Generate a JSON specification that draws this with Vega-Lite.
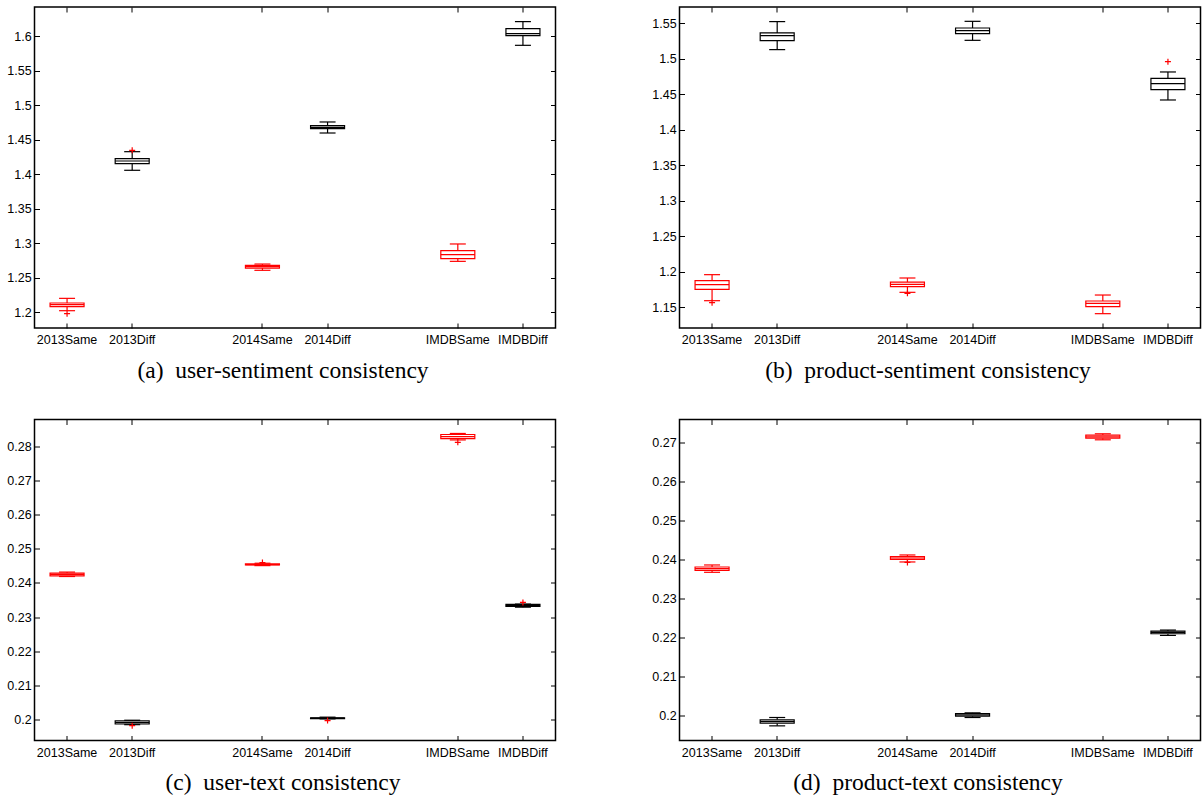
{
"$schema": "https://vega.github.io/schema/vega-lite/v6.json",
"padding": {"left": 5.5, "top": 5, "right": 0, "bottom": 0},
"background": "white",
"columns": 2,
"spacing": {"row": 34.5, "column": 93},
"datasets": {
"boxes": [
{"panel":"a","group":"2013Same","type":"Same","lower":1.2019,"q1":1.2077,"median":1.2106,"q3":1.2131,"upper":1.2198},
{"panel":"a","group":"2013Diff","type":"Diff","lower":1.4056,"q1":1.4152,"median":1.4191,"q3":1.4225,"upper":1.4326},
{"panel":"a","group":"2014Same","type":"Same","lower":1.2605,"q1":1.2638,"median":1.2658,"q3":1.2677,"upper":1.2696},
{"panel":"a","group":"2014Diff","type":"Diff","lower":1.4597,"q1":1.4660,"median":1.4680,"q3":1.4704,"upper":1.4757},
{"panel":"a","group":"IMDBSame","type":"Same","lower":1.2735,"q1":1.2774,"median":1.2832,"q3":1.2890,"upper":1.2987},
{"panel":"a","group":"IMDBDiff","type":"Diff","lower":1.5869,"q1":1.6010,"median":1.6039,"q3":1.6111,"upper":1.6213},
{"panel":"b","group":"2013Same","type":"Same","lower":1.1589,"q1":1.1749,"median":1.1815,"q3":1.1871,"upper":1.1956},
{"panel":"b","group":"2013Diff","type":"Diff","lower":1.5129,"q1":1.5256,"median":1.5326,"q3":1.5364,"upper":1.5524},
{"panel":"b","group":"2014Same","type":"Same","lower":1.1707,"q1":1.1787,"median":1.1820,"q3":1.1852,"upper":1.1909},
{"panel":"b","group":"2014Diff","type":"Diff","lower":1.5260,"q1":1.5354,"median":1.5397,"q3":1.5434,"upper":1.5528},
{"panel":"b","group":"IMDBSame","type":"Same","lower":1.1406,"q1":1.1505,"median":1.1552,"q3":1.1585,"upper":1.1669},
{"panel":"b","group":"IMDBDiff","type":"Diff","lower":1.4419,"q1":1.4565,"median":1.4649,"q3":1.4724,"upper":1.4814},
{"panel":"c","group":"2013Same","type":"Same","lower":0.2419,"q1":0.2421,"median":0.2425,"q3":0.2429,"upper":0.2432},
{"panel":"c","group":"2013Diff","type":"Diff","lower":0.1984,"q1":0.1986,"median":0.1990,"q3":0.1995,"upper":0.1997},
{"panel":"c","group":"2014Same","type":"Same","lower":0.2451,"q1":0.2453,"median":0.2454,"q3":0.2456,"upper":0.2458},
{"panel":"c","group":"2014Diff","type":"Diff","lower":0.2001,"q1":0.2002,"median":0.2003,"q3":0.2004,"upper":0.2006},
{"panel":"c","group":"IMDBSame","type":"Same","lower":0.2820,"q1":0.2824,"median":0.2830,"q3":0.2836,"upper":0.2839},
{"panel":"c","group":"IMDBDiff","type":"Diff","lower":0.2329,"q1":0.2331,"median":0.2334,"q3":0.2337,"upper":0.2338},
{"panel":"d","group":"2013Same","type":"Same","lower":0.23667,"q1":0.23718,"median":0.2376,"q3":0.23803,"upper":0.23855},
{"panel":"d","group":"2013Diff","type":"Diff","lower":0.19735,"q1":0.19803,"median":0.19846,"q3":0.19889,"upper":0.19949},
{"panel":"d","group":"2014Same","type":"Same","lower":0.23932,"q1":0.2400,"median":0.24034,"q3":0.24068,"upper":0.24111},
{"panel":"d","group":"2014Diff","type":"Diff","lower":0.19949,"q1":0.19983,"median":0.20017,"q3":0.20051,"upper":0.20068},
{"panel":"d","group":"IMDBSame","type":"Same","lower":0.2706,"q1":0.27103,"median":0.27137,"q3":0.2718,"upper":0.27214},
{"panel":"d","group":"IMDBDiff","type":"Diff","lower":0.22051,"q1":0.22094,"median":0.22128,"q3":0.22162,"upper":0.22188}
],
"outliers": [
{"panel":"a","group":"2013Same","value":1.1976},
{"panel":"a","group":"2013Diff","value":1.4346},
{"panel":"b","group":"2013Same","value":1.1561},
{"panel":"b","group":"2014Same","value":1.1693},
{"panel":"b","group":"IMDBDiff","value":1.4959},
{"panel":"c","group":"2013Diff","value":0.1981},
{"panel":"c","group":"2014Same","value":0.2460},
{"panel":"c","group":"2014Diff","value":0.1996},
{"panel":"c","group":"IMDBSame","value":0.2813},
{"panel":"c","group":"IMDBDiff","value":0.2343},
{"panel":"d","group":"2014Same","value":0.2392}
]
},
"concat": [
{
"width": 521, "height": 321,
"data": {"name": "boxes"},
"transform": [{"filter": "datum.panel === 'a'"}],
"resolve": {"axis": {"x": "independent", "y": "independent"}},
"layer": [
{"mark": {"type": "rule", "strokeWidth": 1.2},
 "encoding": {
  "x": {"field": "group", "type": "nominal", "scale": {"type": "band", "domain": ["2013Same","2013Diff","gap1","2014Same","2014Diff","gap2","IMDBSame","IMDBDiff"], "paddingInner": 0, "paddingOuter": 0},
        "axis": {"orient": "bottom", "values": ["2013Same","2013Diff","2014Same","2014Diff","IMDBSame","IMDBDiff"], "title": "(a)\u00a0 user-sentiment consistency"}},
  "y": {"field": "lower", "type": "quantitative", "scale": {"domain": [1.1768, 1.6425], "nice": false, "zero": false},
        "axis": {"orient": "left", "values": [1.2,1.25,1.3,1.35,1.4,1.45,1.5,1.55,1.6], "format": "~g", "title": null}},
  "y2": {"field": "q1"},
  "color": {"field": "type", "type": "nominal", "scale": {"domain": ["Same","Diff"], "range": ["#ff0000","#000000"]}, "legend": null}}},
{"mark": {"type": "rule", "strokeWidth": 1.2},
 "encoding": {
  "x": {"field": "group", "type": "nominal", "scale": {"type": "band", "domain": ["2013Same","2013Diff","gap1","2014Same","2014Diff","gap2","IMDBSame","IMDBDiff"], "paddingInner": 0, "paddingOuter": 0}, "axis": null},
  "y": {"field": "q3", "type": "quantitative", "scale": {"domain": [1.1768, 1.6425], "nice": false, "zero": false}, "axis": null},
  "y2": {"field": "upper"},
  "color": {"field": "type", "type": "nominal", "scale": {"domain": ["Same","Diff"], "range": ["#ff0000","#000000"]}, "legend": null}}},
{"mark": {"type": "bar", "size": 34, "fill": "white", "strokeWidth": 1.2},
 "encoding": {
  "x": {"field": "group", "type": "nominal", "scale": {"type": "band", "domain": ["2013Same","2013Diff","gap1","2014Same","2014Diff","gap2","IMDBSame","IMDBDiff"], "paddingInner": 0, "paddingOuter": 0}, "axis": null},
  "y": {"field": "q1", "type": "quantitative", "scale": {"domain": [1.1768, 1.6425], "nice": false, "zero": false}, "axis": null},
  "y2": {"field": "q3"},
  "stroke": {"field": "type", "type": "nominal", "scale": {"domain": ["Same","Diff"], "range": ["#ff0000","#000000"]}, "legend": null}}},
{"mark": {"type": "tick", "size": 34, "thickness": 1.2, "opacity": 1},
 "encoding": {
  "x": {"field": "group", "type": "nominal", "scale": {"type": "band", "domain": ["2013Same","2013Diff","gap1","2014Same","2014Diff","gap2","IMDBSame","IMDBDiff"], "paddingInner": 0, "paddingOuter": 0},
        "axis": {"orient": "top", "values": ["2013Same","2013Diff","2014Same","2014Diff","IMDBSame","IMDBDiff"], "labels": false, "title": null}},
  "y": {"field": "median", "type": "quantitative", "scale": {"domain": [1.1768, 1.6425], "nice": false, "zero": false},
        "axis": {"orient": "right", "values": [1.2,1.25,1.3,1.35,1.4,1.45,1.5,1.55,1.6], "labels": false, "title": null}},
  "color": {"field": "type", "type": "nominal", "scale": {"domain": ["Same","Diff"], "range": ["#ff0000","#000000"]}, "legend": null}}},
{"mark": {"type": "tick", "size": 16, "thickness": 1.2, "opacity": 1},
 "encoding": {
  "x": {"field": "group", "type": "nominal", "scale": {"type": "band", "domain": ["2013Same","2013Diff","gap1","2014Same","2014Diff","gap2","IMDBSame","IMDBDiff"], "paddingInner": 0, "paddingOuter": 0}, "axis": null},
  "y": {"field": "upper", "type": "quantitative", "scale": {"domain": [1.1768, 1.6425], "nice": false, "zero": false}, "axis": null},
  "color": {"field": "type", "type": "nominal", "scale": {"domain": ["Same","Diff"], "range": ["#ff0000","#000000"]}, "legend": null}}},
{"mark": {"type": "tick", "size": 16, "thickness": 1.2, "opacity": 1},
 "encoding": {
  "x": {"field": "group", "type": "nominal", "scale": {"type": "band", "domain": ["2013Same","2013Diff","gap1","2014Same","2014Diff","gap2","IMDBSame","IMDBDiff"], "paddingInner": 0, "paddingOuter": 0}, "axis": null},
  "y": {"field": "lower", "type": "quantitative", "scale": {"domain": [1.1768, 1.6425], "nice": false, "zero": false}, "axis": null},
  "color": {"field": "type", "type": "nominal", "scale": {"domain": ["Same","Diff"], "range": ["#ff0000","#000000"]}, "legend": null}}},
{"data": {"name": "outliers"},
 "transform": [{"filter": "datum.panel === 'a'"}],
 "mark": {"type": "point", "shape": "M-1,0L1,0M0,-1L0,1", "size": 36, "filled": false, "stroke": "#ff0000", "strokeWidth": 1.2, "opacity": 1},
 "encoding": {
  "x": {"field": "group", "type": "nominal", "scale": {"type": "band", "domain": ["2013Same","2013Diff","gap1","2014Same","2014Diff","gap2","IMDBSame","IMDBDiff"], "paddingInner": 0, "paddingOuter": 0}, "axis": null},
  "y": {"field": "value", "type": "quantitative", "scale": {"domain": [1.1768, 1.6425], "nice": false, "zero": false}, "axis": null}}}
]
},
{
"width": 521, "height": 321,
"data": {"name": "boxes"},
"transform": [{"filter": "datum.panel === 'b'"}],
"resolve": {"axis": {"x": "independent", "y": "independent"}},
"layer": [
{"mark": {"type": "rule", "strokeWidth": 1.2},
 "encoding": {
  "x": {"field": "group", "type": "nominal", "scale": {"type": "band", "domain": ["2013Same","2013Diff","gap1","2014Same","2014Diff","gap2","IMDBSame","IMDBDiff"], "paddingInner": 0, "paddingOuter": 0},
        "axis": {"orient": "bottom", "values": ["2013Same","2013Diff","2014Same","2014Diff","IMDBSame","IMDBDiff"], "title": "(b)\u00a0 product-sentiment consistency"}},
  "y": {"field": "lower", "type": "quantitative", "scale": {"domain": [1.1204, 1.573], "nice": false, "zero": false},
        "axis": {"orient": "left", "values": [1.15,1.2,1.25,1.3,1.35,1.4,1.45,1.5,1.55], "format": "~g", "title": null}},
  "y2": {"field": "q1"},
  "color": {"field": "type", "type": "nominal", "scale": {"domain": ["Same","Diff"], "range": ["#ff0000","#000000"]}, "legend": null}}},
{"mark": {"type": "rule", "strokeWidth": 1.2},
 "encoding": {
  "x": {"field": "group", "type": "nominal", "scale": {"type": "band", "domain": ["2013Same","2013Diff","gap1","2014Same","2014Diff","gap2","IMDBSame","IMDBDiff"], "paddingInner": 0, "paddingOuter": 0}, "axis": null},
  "y": {"field": "q3", "type": "quantitative", "scale": {"domain": [1.1204, 1.573], "nice": false, "zero": false}, "axis": null},
  "y2": {"field": "upper"},
  "color": {"field": "type", "type": "nominal", "scale": {"domain": ["Same","Diff"], "range": ["#ff0000","#000000"]}, "legend": null}}},
{"mark": {"type": "bar", "size": 34, "fill": "white", "strokeWidth": 1.2},
 "encoding": {
  "x": {"field": "group", "type": "nominal", "scale": {"type": "band", "domain": ["2013Same","2013Diff","gap1","2014Same","2014Diff","gap2","IMDBSame","IMDBDiff"], "paddingInner": 0, "paddingOuter": 0}, "axis": null},
  "y": {"field": "q1", "type": "quantitative", "scale": {"domain": [1.1204, 1.573], "nice": false, "zero": false}, "axis": null},
  "y2": {"field": "q3"},
  "stroke": {"field": "type", "type": "nominal", "scale": {"domain": ["Same","Diff"], "range": ["#ff0000","#000000"]}, "legend": null}}},
{"mark": {"type": "tick", "size": 34, "thickness": 1.2, "opacity": 1},
 "encoding": {
  "x": {"field": "group", "type": "nominal", "scale": {"type": "band", "domain": ["2013Same","2013Diff","gap1","2014Same","2014Diff","gap2","IMDBSame","IMDBDiff"], "paddingInner": 0, "paddingOuter": 0},
        "axis": {"orient": "top", "values": ["2013Same","2013Diff","2014Same","2014Diff","IMDBSame","IMDBDiff"], "labels": false, "title": null}},
  "y": {"field": "median", "type": "quantitative", "scale": {"domain": [1.1204, 1.573], "nice": false, "zero": false},
        "axis": {"orient": "right", "values": [1.15,1.2,1.25,1.3,1.35,1.4,1.45,1.5,1.55], "labels": false, "title": null}},
  "color": {"field": "type", "type": "nominal", "scale": {"domain": ["Same","Diff"], "range": ["#ff0000","#000000"]}, "legend": null}}},
{"mark": {"type": "tick", "size": 16, "thickness": 1.2, "opacity": 1},
 "encoding": {
  "x": {"field": "group", "type": "nominal", "scale": {"type": "band", "domain": ["2013Same","2013Diff","gap1","2014Same","2014Diff","gap2","IMDBSame","IMDBDiff"], "paddingInner": 0, "paddingOuter": 0}, "axis": null},
  "y": {"field": "upper", "type": "quantitative", "scale": {"domain": [1.1204, 1.573], "nice": false, "zero": false}, "axis": null},
  "color": {"field": "type", "type": "nominal", "scale": {"domain": ["Same","Diff"], "range": ["#ff0000","#000000"]}, "legend": null}}},
{"mark": {"type": "tick", "size": 16, "thickness": 1.2, "opacity": 1},
 "encoding": {
  "x": {"field": "group", "type": "nominal", "scale": {"type": "band", "domain": ["2013Same","2013Diff","gap1","2014Same","2014Diff","gap2","IMDBSame","IMDBDiff"], "paddingInner": 0, "paddingOuter": 0}, "axis": null},
  "y": {"field": "lower", "type": "quantitative", "scale": {"domain": [1.1204, 1.573], "nice": false, "zero": false}, "axis": null},
  "color": {"field": "type", "type": "nominal", "scale": {"domain": ["Same","Diff"], "range": ["#ff0000","#000000"]}, "legend": null}}},
{"data": {"name": "outliers"},
 "transform": [{"filter": "datum.panel === 'b'"}],
 "mark": {"type": "point", "shape": "M-1,0L1,0M0,-1L0,1", "size": 36, "filled": false, "stroke": "#ff0000", "strokeWidth": 1.2, "opacity": 1},
 "encoding": {
  "x": {"field": "group", "type": "nominal", "scale": {"type": "band", "domain": ["2013Same","2013Diff","gap1","2014Same","2014Diff","gap2","IMDBSame","IMDBDiff"], "paddingInner": 0, "paddingOuter": 0}, "axis": null},
  "y": {"field": "value", "type": "quantitative", "scale": {"domain": [1.1204, 1.573], "nice": false, "zero": false}, "axis": null}}}
]
},
{
"width": 521, "height": 321,
"data": {"name": "boxes"},
"transform": [{"filter": "datum.panel === 'c'"}],
"resolve": {"axis": {"x": "independent", "y": "independent"}},
"layer": [
{"mark": {"type": "rule", "strokeWidth": 1.2},
 "encoding": {
  "x": {"field": "group", "type": "nominal", "scale": {"type": "band", "domain": ["2013Same","2013Diff","gap1","2014Same","2014Diff","gap2","IMDBSame","IMDBDiff"], "paddingInner": 0, "paddingOuter": 0},
        "axis": {"orient": "bottom", "values": ["2013Same","2013Diff","2014Same","2014Diff","IMDBSame","IMDBDiff"], "title": "(c)\u00a0 user-text consistency"}},
  "y": {"field": "lower", "type": "quantitative", "scale": {"domain": [0.19375, 0.288], "nice": false, "zero": false},
        "axis": {"orient": "left", "values": [0.2,0.21,0.22,0.23,0.24,0.25,0.26,0.27,0.28], "format": "~g", "title": null}},
  "y2": {"field": "q1"},
  "color": {"field": "type", "type": "nominal", "scale": {"domain": ["Same","Diff"], "range": ["#ff0000","#000000"]}, "legend": null}}},
{"mark": {"type": "rule", "strokeWidth": 1.2},
 "encoding": {
  "x": {"field": "group", "type": "nominal", "scale": {"type": "band", "domain": ["2013Same","2013Diff","gap1","2014Same","2014Diff","gap2","IMDBSame","IMDBDiff"], "paddingInner": 0, "paddingOuter": 0}, "axis": null},
  "y": {"field": "q3", "type": "quantitative", "scale": {"domain": [0.19375, 0.288], "nice": false, "zero": false}, "axis": null},
  "y2": {"field": "upper"},
  "color": {"field": "type", "type": "nominal", "scale": {"domain": ["Same","Diff"], "range": ["#ff0000","#000000"]}, "legend": null}}},
{"mark": {"type": "bar", "size": 34, "fill": "white", "strokeWidth": 1.2},
 "encoding": {
  "x": {"field": "group", "type": "nominal", "scale": {"type": "band", "domain": ["2013Same","2013Diff","gap1","2014Same","2014Diff","gap2","IMDBSame","IMDBDiff"], "paddingInner": 0, "paddingOuter": 0}, "axis": null},
  "y": {"field": "q1", "type": "quantitative", "scale": {"domain": [0.19375, 0.288], "nice": false, "zero": false}, "axis": null},
  "y2": {"field": "q3"},
  "stroke": {"field": "type", "type": "nominal", "scale": {"domain": ["Same","Diff"], "range": ["#ff0000","#000000"]}, "legend": null}}},
{"mark": {"type": "tick", "size": 34, "thickness": 1.2, "opacity": 1},
 "encoding": {
  "x": {"field": "group", "type": "nominal", "scale": {"type": "band", "domain": ["2013Same","2013Diff","gap1","2014Same","2014Diff","gap2","IMDBSame","IMDBDiff"], "paddingInner": 0, "paddingOuter": 0},
        "axis": {"orient": "top", "values": ["2013Same","2013Diff","2014Same","2014Diff","IMDBSame","IMDBDiff"], "labels": false, "title": null}},
  "y": {"field": "median", "type": "quantitative", "scale": {"domain": [0.19375, 0.288], "nice": false, "zero": false},
        "axis": {"orient": "right", "values": [0.2,0.21,0.22,0.23,0.24,0.25,0.26,0.27,0.28], "labels": false, "title": null}},
  "color": {"field": "type", "type": "nominal", "scale": {"domain": ["Same","Diff"], "range": ["#ff0000","#000000"]}, "legend": null}}},
{"mark": {"type": "tick", "size": 16, "thickness": 1.2, "opacity": 1},
 "encoding": {
  "x": {"field": "group", "type": "nominal", "scale": {"type": "band", "domain": ["2013Same","2013Diff","gap1","2014Same","2014Diff","gap2","IMDBSame","IMDBDiff"], "paddingInner": 0, "paddingOuter": 0}, "axis": null},
  "y": {"field": "upper", "type": "quantitative", "scale": {"domain": [0.19375, 0.288], "nice": false, "zero": false}, "axis": null},
  "color": {"field": "type", "type": "nominal", "scale": {"domain": ["Same","Diff"], "range": ["#ff0000","#000000"]}, "legend": null}}},
{"mark": {"type": "tick", "size": 16, "thickness": 1.2, "opacity": 1},
 "encoding": {
  "x": {"field": "group", "type": "nominal", "scale": {"type": "band", "domain": ["2013Same","2013Diff","gap1","2014Same","2014Diff","gap2","IMDBSame","IMDBDiff"], "paddingInner": 0, "paddingOuter": 0}, "axis": null},
  "y": {"field": "lower", "type": "quantitative", "scale": {"domain": [0.19375, 0.288], "nice": false, "zero": false}, "axis": null},
  "color": {"field": "type", "type": "nominal", "scale": {"domain": ["Same","Diff"], "range": ["#ff0000","#000000"]}, "legend": null}}},
{"data": {"name": "outliers"},
 "transform": [{"filter": "datum.panel === 'c'"}],
 "mark": {"type": "point", "shape": "M-1,0L1,0M0,-1L0,1", "size": 36, "filled": false, "stroke": "#ff0000", "strokeWidth": 1.2, "opacity": 1},
 "encoding": {
  "x": {"field": "group", "type": "nominal", "scale": {"type": "band", "domain": ["2013Same","2013Diff","gap1","2014Same","2014Diff","gap2","IMDBSame","IMDBDiff"], "paddingInner": 0, "paddingOuter": 0}, "axis": null},
  "y": {"field": "value", "type": "quantitative", "scale": {"domain": [0.19375, 0.288], "nice": false, "zero": false}, "axis": null}}}
]
},
{
"width": 521, "height": 321,
"data": {"name": "boxes"},
"transform": [{"filter": "datum.panel === 'd'"}],
"resolve": {"axis": {"x": "independent", "y": "independent"}},
"layer": [
{"mark": {"type": "rule", "strokeWidth": 1.2},
 "encoding": {
  "x": {"field": "group", "type": "nominal", "scale": {"type": "band", "domain": ["2013Same","2013Diff","gap1","2014Same","2014Diff","gap2","IMDBSame","IMDBDiff"], "paddingInner": 0, "paddingOuter": 0},
        "axis": {"orient": "bottom", "values": ["2013Same","2013Diff","2014Same","2014Diff","IMDBSame","IMDBDiff"], "title": "(d)\u00a0 product-text consistency"}},
  "y": {"field": "lower", "type": "quantitative", "scale": {"domain": [0.1936, 0.2758], "nice": false, "zero": false},
        "axis": {"orient": "left", "values": [0.2,0.21,0.22,0.23,0.24,0.25,0.26,0.27], "format": "~g", "title": null}},
  "y2": {"field": "q1"},
  "color": {"field": "type", "type": "nominal", "scale": {"domain": ["Same","Diff"], "range": ["#ff0000","#000000"]}, "legend": null}}},
{"mark": {"type": "rule", "strokeWidth": 1.2},
 "encoding": {
  "x": {"field": "group", "type": "nominal", "scale": {"type": "band", "domain": ["2013Same","2013Diff","gap1","2014Same","2014Diff","gap2","IMDBSame","IMDBDiff"], "paddingInner": 0, "paddingOuter": 0}, "axis": null},
  "y": {"field": "q3", "type": "quantitative", "scale": {"domain": [0.1936, 0.2758], "nice": false, "zero": false}, "axis": null},
  "y2": {"field": "upper"},
  "color": {"field": "type", "type": "nominal", "scale": {"domain": ["Same","Diff"], "range": ["#ff0000","#000000"]}, "legend": null}}},
{"mark": {"type": "bar", "size": 34, "fill": "white", "strokeWidth": 1.2},
 "encoding": {
  "x": {"field": "group", "type": "nominal", "scale": {"type": "band", "domain": ["2013Same","2013Diff","gap1","2014Same","2014Diff","gap2","IMDBSame","IMDBDiff"], "paddingInner": 0, "paddingOuter": 0}, "axis": null},
  "y": {"field": "q1", "type": "quantitative", "scale": {"domain": [0.1936, 0.2758], "nice": false, "zero": false}, "axis": null},
  "y2": {"field": "q3"},
  "stroke": {"field": "type", "type": "nominal", "scale": {"domain": ["Same","Diff"], "range": ["#ff0000","#000000"]}, "legend": null}}},
{"mark": {"type": "tick", "size": 34, "thickness": 1.2, "opacity": 1},
 "encoding": {
  "x": {"field": "group", "type": "nominal", "scale": {"type": "band", "domain": ["2013Same","2013Diff","gap1","2014Same","2014Diff","gap2","IMDBSame","IMDBDiff"], "paddingInner": 0, "paddingOuter": 0},
        "axis": {"orient": "top", "values": ["2013Same","2013Diff","2014Same","2014Diff","IMDBSame","IMDBDiff"], "labels": false, "title": null}},
  "y": {"field": "median", "type": "quantitative", "scale": {"domain": [0.1936, 0.2758], "nice": false, "zero": false},
        "axis": {"orient": "right", "values": [0.2,0.21,0.22,0.23,0.24,0.25,0.26,0.27], "labels": false, "title": null}},
  "color": {"field": "type", "type": "nominal", "scale": {"domain": ["Same","Diff"], "range": ["#ff0000","#000000"]}, "legend": null}}},
{"mark": {"type": "tick", "size": 16, "thickness": 1.2, "opacity": 1},
 "encoding": {
  "x": {"field": "group", "type": "nominal", "scale": {"type": "band", "domain": ["2013Same","2013Diff","gap1","2014Same","2014Diff","gap2","IMDBSame","IMDBDiff"], "paddingInner": 0, "paddingOuter": 0}, "axis": null},
  "y": {"field": "upper", "type": "quantitative", "scale": {"domain": [0.1936, 0.2758], "nice": false, "zero": false}, "axis": null},
  "color": {"field": "type", "type": "nominal", "scale": {"domain": ["Same","Diff"], "range": ["#ff0000","#000000"]}, "legend": null}}},
{"mark": {"type": "tick", "size": 16, "thickness": 1.2, "opacity": 1},
 "encoding": {
  "x": {"field": "group", "type": "nominal", "scale": {"type": "band", "domain": ["2013Same","2013Diff","gap1","2014Same","2014Diff","gap2","IMDBSame","IMDBDiff"], "paddingInner": 0, "paddingOuter": 0}, "axis": null},
  "y": {"field": "lower", "type": "quantitative", "scale": {"domain": [0.1936, 0.2758], "nice": false, "zero": false}, "axis": null},
  "color": {"field": "type", "type": "nominal", "scale": {"domain": ["Same","Diff"], "range": ["#ff0000","#000000"]}, "legend": null}}},
{"data": {"name": "outliers"},
 "transform": [{"filter": "datum.panel === 'd'"}],
 "mark": {"type": "point", "shape": "M-1,0L1,0M0,-1L0,1", "size": 36, "filled": false, "stroke": "#ff0000", "strokeWidth": 1.2, "opacity": 1},
 "encoding": {
  "x": {"field": "group", "type": "nominal", "scale": {"type": "band", "domain": ["2013Same","2013Diff","gap1","2014Same","2014Diff","gap2","IMDBSame","IMDBDiff"], "paddingInner": 0, "paddingOuter": 0}, "axis": null},
  "y": {"field": "value", "type": "quantitative", "scale": {"domain": [0.1936, 0.2758], "nice": false, "zero": false}, "axis": null}}}
]
}
],
"config": {
  "view": {"stroke": "#000000", "strokeWidth": 1.5},
  "axis": {"domain": false, "grid": false, "ticks": true, "tickSize": -5, "tickColor": "#000000", "tickWidth": 1, "labelPadding": 8.3, "labelFont": "Liberation Sans", "labelFontSize": 12.5, "labelColor": "#000000", "labelAngle": 0, "labelOverlap": false},
  "axisBottom": {"labelPadding": 10.5, "titleFont": "Liberation Serif", "titleFontSize": 23.5, "titleFontWeight": "normal", "titleColor": "#000000", "titlePadding": 12, "titleX": 248, "titleAlign": "center"}
}
}
